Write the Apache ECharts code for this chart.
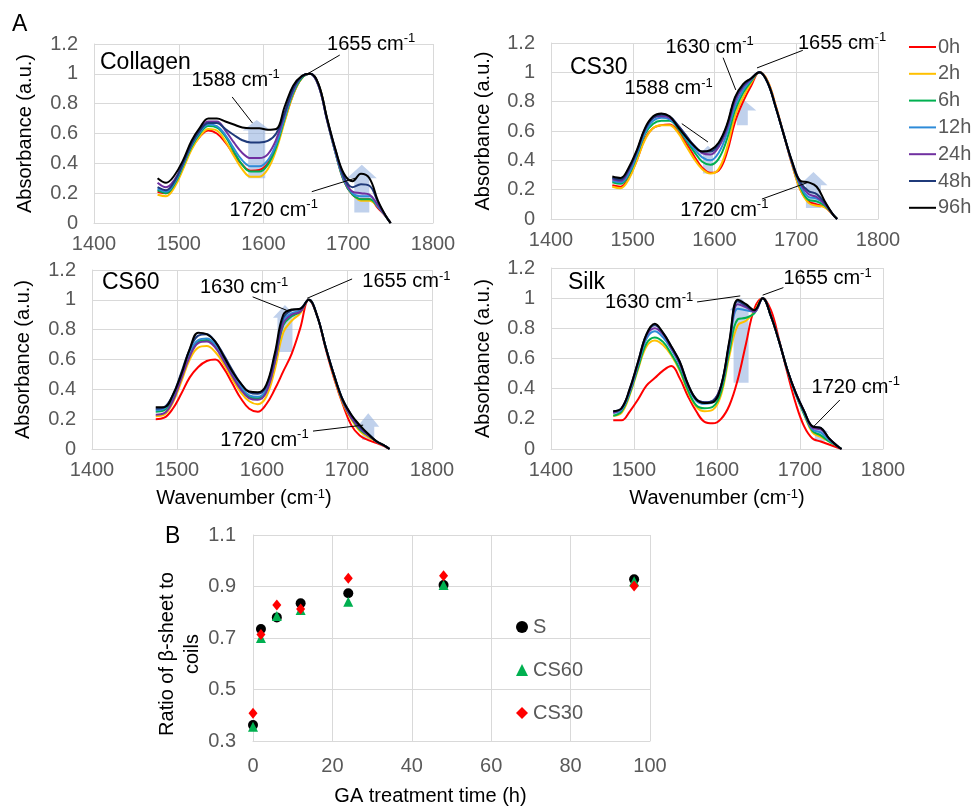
<!DOCTYPE html>
<html>
<head>
<meta charset="utf-8">
<script src="https://cdn.jsdelivr.net/npm/echarts@6/dist/echarts.min.js"></script>
<style>
  html, body { margin: 0; background: #fff; }
  #chart { width: 975px; height: 807px; }
</style>
</head>
<body>
<div id="chart"></div>
<script>
'use strict'

/*----- data: FTIR spectra (panel A) -----*/
var wavenumbers = [1475, 1485, 1495, 1505, 1515, 1525, 1535, 1545, 1555, 1565, 1575, 1585, 1595, 1605, 1615,
  1625, 1635, 1645, 1655, 1665, 1675, 1685, 1695, 1705, 1715, 1725, 1735, 1745, 1750];
var times = ['0h', '2h', '6h', '12h', '24h', '48h', '96h'];

// one row per GA time (0h .. 96h), values match wavenumbers
var collagen = [
  [0.21, 0.20, 0.25, 0.37, 0.50, 0.58, 0.62, 0.60, 0.54, 0.46, 0.39, 0.35, 0.355, 0.40, 0.51, 0.69, 0.86, 0.97, 1.00, 0.92, 0.69, 0.47, 0.28, 0.19, 0.16, 0.16, 0.10, 0.04, 0],
  [0.19, 0.18, 0.24, 0.36, 0.49, 0.58, 0.63, 0.62, 0.55, 0.45, 0.36, 0.31, 0.31, 0.36, 0.49, 0.68, 0.86, 0.97, 1.00, 0.93, 0.70, 0.48, 0.29, 0.20, 0.15, 0.15, 0.11, 0.04, 0],
  [0.22, 0.20, 0.26, 0.38, 0.51, 0.60, 0.65, 0.64, 0.58, 0.48, 0.39, 0.345, 0.345, 0.39, 0.51, 0.70, 0.87, 0.97, 1.00, 0.92, 0.69, 0.47, 0.28, 0.19, 0.16, 0.16, 0.11, 0.04, 0],
  [0.23, 0.21, 0.27, 0.39, 0.52, 0.61, 0.66, 0.65, 0.59, 0.50, 0.42, 0.38, 0.38, 0.42, 0.53, 0.71, 0.88, 0.98, 1.00, 0.92, 0.69, 0.47, 0.29, 0.20, 0.18, 0.18, 0.11, 0.04, 0],
  [0.27, 0.24, 0.29, 0.40, 0.53, 0.63, 0.68, 0.68, 0.62, 0.54, 0.47, 0.435, 0.435, 0.46, 0.56, 0.73, 0.89, 0.98, 1.00, 0.92, 0.69, 0.48, 0.30, 0.21, 0.20, 0.19, 0.12, 0.04, 0],
  [0.24, 0.22, 0.28, 0.40, 0.53, 0.62, 0.67, 0.67, 0.63, 0.59, 0.555, 0.54, 0.54, 0.55, 0.60, 0.74, 0.90, 0.98, 1.00, 0.93, 0.70, 0.49, 0.31, 0.24, 0.26, 0.25, 0.14, 0.04, 0],
  [0.30, 0.27, 0.32, 0.42, 0.55, 0.64, 0.70, 0.70, 0.68, 0.66, 0.64, 0.635, 0.635, 0.625, 0.63, 0.78, 0.92, 0.985, 1.00, 0.93, 0.70, 0.49, 0.33, 0.28, 0.33, 0.30, 0.15, 0.04, 0]
];
var cs30 = [
  [0.23, 0.22, 0.28, 0.40, 0.55, 0.62, 0.64, 0.645, 0.60, 0.52, 0.43, 0.35, 0.315, 0.33, 0.45, 0.66, 0.80, 0.91, 1.00, 0.94, 0.77, 0.57, 0.37, 0.20, 0.12, 0.10, 0.08, 0.03, 0],
  [0.22, 0.21, 0.27, 0.40, 0.54, 0.62, 0.64, 0.64, 0.59, 0.50, 0.41, 0.34, 0.31, 0.34, 0.48, 0.70, 0.83, 0.93, 1.00, 0.94, 0.77, 0.57, 0.37, 0.20, 0.11, 0.09, 0.08, 0.03, 0],
  [0.25, 0.24, 0.30, 0.43, 0.58, 0.65, 0.67, 0.67, 0.62, 0.54, 0.46, 0.39, 0.37, 0.41, 0.54, 0.74, 0.86, 0.94, 1.00, 0.93, 0.76, 0.57, 0.38, 0.22, 0.13, 0.12, 0.09, 0.03, 0],
  [0.26, 0.25, 0.31, 0.44, 0.59, 0.67, 0.69, 0.68, 0.63, 0.55, 0.48, 0.42, 0.40, 0.45, 0.58, 0.77, 0.88, 0.95, 1.00, 0.93, 0.76, 0.57, 0.38, 0.23, 0.15, 0.14, 0.10, 0.03, 0],
  [0.27, 0.26, 0.33, 0.46, 0.61, 0.69, 0.70, 0.69, 0.64, 0.57, 0.50, 0.45, 0.44, 0.49, 0.61, 0.80, 0.90, 0.955, 1.00, 0.93, 0.76, 0.57, 0.38, 0.24, 0.17, 0.15, 0.10, 0.03, 0],
  [0.28, 0.27, 0.34, 0.46, 0.61, 0.69, 0.71, 0.70, 0.64, 0.57, 0.50, 0.46, 0.46, 0.51, 0.63, 0.82, 0.91, 0.96, 1.00, 0.93, 0.76, 0.57, 0.39, 0.25, 0.19, 0.17, 0.11, 0.03, 0],
  [0.29, 0.28, 0.35, 0.47, 0.62, 0.70, 0.72, 0.70, 0.63, 0.56, 0.50, 0.46, 0.47, 0.52, 0.64, 0.83, 0.92, 0.96, 1.00, 0.93, 0.76, 0.57, 0.39, 0.26, 0.25, 0.22, 0.12, 0.03, 0]
];
var cs60 = [
  [0.20, 0.21, 0.27, 0.37, 0.48, 0.55, 0.59, 0.60, 0.54, 0.44, 0.34, 0.27, 0.25, 0.30, 0.40, 0.52, 0.64, 0.81, 1.00, 0.89, 0.67, 0.47, 0.30, 0.16, 0.09, 0.06, 0.04, 0.015, 0],
  [0.22, 0.23, 0.31, 0.45, 0.60, 0.68, 0.69, 0.65, 0.57, 0.47, 0.38, 0.32, 0.30, 0.35, 0.53, 0.78, 0.86, 0.91, 1.00, 0.89, 0.68, 0.48, 0.31, 0.20, 0.12, 0.08, 0.05, 0.02, 0],
  [0.25, 0.26, 0.34, 0.49, 0.64, 0.72, 0.73, 0.69, 0.60, 0.50, 0.41, 0.35, 0.34, 0.39, 0.58, 0.83, 0.89, 0.92, 1.00, 0.89, 0.68, 0.49, 0.32, 0.21, 0.13, 0.09, 0.05, 0.02, 0],
  [0.26, 0.27, 0.35, 0.50, 0.65, 0.73, 0.74, 0.70, 0.61, 0.51, 0.42, 0.36, 0.35, 0.40, 0.60, 0.86, 0.91, 0.93, 1.00, 0.89, 0.68, 0.49, 0.33, 0.22, 0.14, 0.10, 0.05, 0.02, 0],
  [0.23, 0.24, 0.32, 0.47, 0.62, 0.71, 0.72, 0.68, 0.59, 0.49, 0.40, 0.34, 0.33, 0.38, 0.58, 0.84, 0.90, 0.92, 1.00, 0.89, 0.68, 0.49, 0.32, 0.21, 0.14, 0.09, 0.05, 0.02, 0],
  [0.27, 0.28, 0.36, 0.51, 0.67, 0.76, 0.77, 0.72, 0.63, 0.53, 0.44, 0.38, 0.37, 0.42, 0.62, 0.88, 0.93, 0.94, 1.00, 0.89, 0.68, 0.49, 0.33, 0.23, 0.15, 0.10, 0.05, 0.02, 0],
  [0.28, 0.28, 0.36, 0.50, 0.67, 0.78, 0.77, 0.72, 0.62, 0.52, 0.44, 0.385, 0.38, 0.43, 0.64, 0.90, 0.935, 0.94, 1.00, 0.89, 0.68, 0.49, 0.33, 0.23, 0.16, 0.10, 0.05, 0.02, 0]
];
var silk = [
  [0.19, 0.19, 0.25, 0.33, 0.42, 0.47, 0.52, 0.55, 0.47, 0.35, 0.25, 0.18, 0.17, 0.20, 0.29, 0.46, 0.70, 0.93, 1.00, 0.92, 0.72, 0.50, 0.30, 0.15, 0.07, 0.05, 0.03, 0.01, 0],
  [0.22, 0.24, 0.36, 0.53, 0.68, 0.72, 0.69, 0.62, 0.52, 0.38, 0.28, 0.25, 0.26, 0.36, 0.62, 0.82, 0.85, 0.91, 1.00, 0.88, 0.71, 0.52, 0.36, 0.23, 0.11, 0.08, 0.05, 0.02, 0],
  [0.22, 0.25, 0.37, 0.54, 0.70, 0.74, 0.71, 0.63, 0.53, 0.39, 0.29, 0.27, 0.28, 0.38, 0.65, 0.86, 0.87, 0.90, 1.00, 0.88, 0.71, 0.52, 0.36, 0.23, 0.12, 0.09, 0.05, 0.02, 0],
  [0.24, 0.26, 0.38, 0.56, 0.73, 0.78, 0.74, 0.66, 0.56, 0.42, 0.32, 0.30, 0.31, 0.41, 0.69, 0.93, 0.92, 0.91, 1.00, 0.88, 0.71, 0.52, 0.36, 0.24, 0.13, 0.11, 0.06, 0.02, 0],
  [0.24, 0.27, 0.39, 0.57, 0.75, 0.80, 0.76, 0.67, 0.57, 0.42, 0.33, 0.31, 0.32, 0.42, 0.70, 0.96, 0.94, 0.91, 1.00, 0.88, 0.71, 0.52, 0.37, 0.25, 0.14, 0.13, 0.07, 0.02, 0],
  [0.25, 0.27, 0.40, 0.58, 0.76, 0.82, 0.77, 0.68, 0.58, 0.43, 0.33, 0.31, 0.32, 0.42, 0.71, 0.98, 0.95, 0.92, 1.00, 0.88, 0.71, 0.52, 0.37, 0.25, 0.15, 0.14, 0.07, 0.02, 0],
  [0.25, 0.27, 0.40, 0.58, 0.76, 0.83, 0.77, 0.68, 0.58, 0.43, 0.33, 0.305, 0.31, 0.42, 0.72, 0.99, 0.96, 0.92, 1.00, 0.88, 0.71, 0.52, 0.37, 0.25, 0.15, 0.14, 0.07, 0.02, 0]
];
var panelNames = ['Collagen', 'CS30', 'CS60', 'Silk'];

/*----- data: ratio of beta-sheet to coils (panel B) -----*/
var gaHours = [0, 2, 6, 12, 24, 48, 96];
var ratioS = [0.362, 0.735, 0.780, 0.835, 0.874, 0.906, 0.928];
var ratioCS60 = [0.355, 0.700, 0.785, 0.809, 0.841, 0.906, 0.920];
var ratioCS30 = [0.408, 0.714, 0.828, 0.813, 0.932, 0.942, 0.902];

/*----- annotations (data units) -----*/
// [x on curve, y on curve, x line end, y line end, x text, y text, label]
var notes = [
  [[1652, 1.0, 1690, 1.126, 1675, 1.2, '1655'],
   [1587, 0.67, 1563, 0.845, 1515, 0.958, '1588'],
   [1708, 0.30, 1657, 0.21, 1560, 0.087, '1720']],
  [[1652, 1.03, 1708, 1.15, 1702, 1.2, '1655'],
   [1626, 0.88, 1610.5, 1.10, 1540, 1.17, '1630'],
   [1592, 0.525, 1560, 0.65, 1490, 0.89, '1588'],
   [1714.5, 0.25, 1658, 0.136, 1558, 0.06, '1720']],
  [[1653, 1.01, 1706, 1.14, 1718, 1.12, '1655'],
   [1629, 0.93, 1589, 1.02, 1527, 1.08, '1630'],
   [1719, 0.16, 1660, 0.12, 1551, 0.06, '1720']],
  [[1655, 1.02, 1680, 1.07, 1680, 1.13, '1655'],
   [1628, 1.015, 1576, 0.975, 1465, 0.97, '1630'],
   [1716, 0.146, 1748, 0.325, 1714, 0.41, '1720']]
];
// [x, bottom, head base, tip, shaft px, head px]
var arrows = [
  [[1592, 0.30, 0.62, 0.69, 17, 28], [1716, 0.07, 0.30, 0.39, 15, 30]],
  [[1592, 0.31, 0.44, 0.50, 10, 18], [1634, 0.64, 0.74, 0.82, 11, 28], [1721, 0.075, 0.23, 0.32, 15, 28]],
  [[1627, 0.65, 0.88, 0.965, 15, 24], [1725, 0.06, 0.15, 0.24, 12, 22]],
  [[1629, 0.44, 0.92, 1.0, 15, 23], [1724, 0.05, 0.11, 0.15, 10, 18]]
];

var FONT = '"Liberation Sans", Arial, sans-serif';
var timeColors = ['#ff0000', '#ffc000', '#00b050', '#2e8bd8', '#7030a0', '#1f3a7a', '#000000'];
var gridColor = '#d9d9d9';
var supRich = {
  a: { fontSize: 20, fontFamily: FONT, color: '#000', lineHeight: 24 },
  s: { fontSize: 13, fontFamily: FONT, color: '#000', lineHeight: 13, verticalAlign: 'top' }
};

var chart = echarts.init(document.getElementById('chart'));

var grids = [
  { left: 94, top: 44, width: 339, height: 179 },
  { left: 551, top: 43, width: 327, height: 176 },
  { left: 92, top: 270, width: 340, height: 179 },
  { left: 551, top: 268, width: 332, height: 181 },
  { left: 253, top: 535, width: 397, height: 206 }
];

var axisLabel = { fontSize: 20, color: '#595959', fontFamily: FONT };
var xAxes = [], yAxes = [], series = [];

[collagen, cs30, cs60, silk].forEach(function (spec, p) {
  var bottomRow = p >= 2;
  xAxes.push({
    type: 'value', gridIndex: p, min: 1400, max: 1800, interval: 100,
    axisLine: { lineStyle: { color: gridColor } }, axisTick: { show: false },
    splitLine: { lineStyle: { color: gridColor } },
    axisLabel: Object.assign({ margin: 11, formatter: function (v) { return String(v); } }, axisLabel),
    name: bottomRow ? 'Wavenumber (cm{s|-1})' : '',
    nameLocation: 'middle', nameGap: 39,
    nameTextStyle: { fontSize: 20, color: '#000', fontFamily: FONT, rich: supRich,
      padding: p === 2 ? [0, 36, 0, 0] : 0 }
  });
  yAxes.push({
    type: 'value', gridIndex: p, min: 0, max: 1.2, interval: 0.2,
    axisLine: { show: true, lineStyle: { color: gridColor } }, axisTick: { show: false },
    splitLine: { lineStyle: { color: gridColor } },
    axisLabel: Object.assign({ margin: 16 }, axisLabel),
    name: 'Absorbance (a.u.)', nameLocation: 'middle', nameGap: p % 2 ? 58 : 59,
    nameTextStyle: { fontSize: 20, color: '#000', fontFamily: FONT }
  });

  spec.forEach(function (vals, i) {
    series.push({
      name: times[i], type: 'line', xAxisIndex: p, yAxisIndex: p,
      data: wavenumbers.map(function (w, k) { return [w, vals[k]]; }),
      symbol: 'none', smooth: 0.4, z: 3,
      lineStyle: { width: 2, color: timeColors[i] },
      itemStyle: { color: timeColors[i] }
    });
  });

  // light blue arrows
  series.push({
    type: 'custom', xAxisIndex: p, yAxisIndex: p, clip: false, silent: true, z: 2,
    data: arrows[p],
    renderItem: function (params, api) {
      var x = api.value(0), sw = api.value(4), hw = api.value(5);
      var b = api.coord([x, api.value(1)]);
      var m = api.coord([x, api.value(2)]);
      var t = api.coord([x, api.value(3)]);
      return {
        type: 'polygon',
        shape: { points: [[b[0] - sw / 2, b[1]], [m[0] - sw / 2, m[1]], [m[0] - hw / 2, m[1]], t,
          [m[0] + hw / 2, m[1]], [m[0] + sw / 2, m[1]], [b[0] + sw / 2, b[1]]] },
        style: { fill: 'rgba(140,172,220,0.55)' }
      };
    }
  });

  // peak labels with leader lines
  series.push({
    type: 'custom', xAxisIndex: p, yAxisIndex: p, clip: false, silent: true, z: 5,
    data: notes[p].map(function (n) { return n.slice(0, 6); }),
    renderItem: function (params, api) {
      var a = api.coord([api.value(0), api.value(1)]);
      var e = api.coord([api.value(2), api.value(3)]);
      var t = api.coord([api.value(4), api.value(5)]);
      var label = notes[p][params.dataIndex][6];
      return {
        type: 'group',
        children: [
          { type: 'line', shape: { x1: a[0], y1: a[1], x2: e[0], y2: e[1] },
            style: { stroke: '#000', lineWidth: 1 } },
          { type: 'text', x: t[0], y: t[1],
            style: { text: '{a|' + label + ' cm}{s|-1}', rich: supRich,
              align: 'left', verticalAlign: 'middle' } }
        ]
      };
    }
  });
});

// panel B axes
xAxes.push({
  type: 'value', gridIndex: 4, min: 0, max: 100, interval: 20,
  axisLine: { lineStyle: { color: gridColor } }, axisTick: { show: false },
  splitLine: { lineStyle: { color: gridColor } },
  axisLabel: Object.assign({ margin: 15 }, axisLabel),
  name: 'GA treatment time (h)', nameLocation: 'middle', nameGap: 45,
  nameTextStyle: { fontSize: 20, color: '#000', fontFamily: FONT, padding: [0, 42, 0, 0] }
});
yAxes.push({
  type: 'value', gridIndex: 4, min: 0.3, max: 1.1, interval: 0.2,
  axisLine: { show: true, lineStyle: { color: gridColor } }, axisTick: { show: false },
  splitLine: { lineStyle: { color: gridColor } },
  axisLabel: Object.assign({ margin: 17, formatter: function (v) { return v.toFixed(1); } }, axisLabel),
  name: 'Ratio of \u03b2-sheet to\ncoils', nameLocation: 'middle', nameGap: 48, nameMoveOverlap: false,
  nameTextStyle: { fontSize: 20, color: '#000', fontFamily: FONT, lineHeight: 25, padding: [0, 32, 0, 0] }
});

function pairs(ys) { return gaHours.map(function (h, k) { return [h, ys[k]]; }); }
series.push(
  { name: 'S', type: 'scatter', xAxisIndex: 4, yAxisIndex: 4, data: pairs(ratioS),
    symbol: 'circle', symbolSize: 10, itemStyle: { color: '#000', opacity: 1 }, z: 3 },
  { name: 'CS60', type: 'scatter', xAxisIndex: 4, yAxisIndex: 4, data: pairs(ratioCS60),
    symbol: 'triangle', symbolSize: 10, itemStyle: { color: '#00b050', opacity: 1 }, z: 4 },
  { name: 'CS30', type: 'scatter', xAxisIndex: 4, yAxisIndex: 4, data: pairs(ratioCS30),
    symbol: 'diamond', symbolSize: [9, 11], itemStyle: { color: '#ff0000', opacity: 1 }, z: 5 }
);

var titleStyle = { fontSize: 23, fontWeight: 'normal', color: '#000', fontFamily: FONT };
var titles = [
  { text: 'A', left: 12, top: 13 },
  { text: 'B', left: 165, top: 525 },
  { text: panelNames[0], left: 100, top: 51 },
  { text: panelNames[1], left: 570, top: 56 },
  { text: panelNames[2], left: 102, top: 271 },
  { text: panelNames[3], left: 568, top: 271 }
].map(function (t) { return Object.assign({ padding: 0, textStyle: titleStyle }, t); });

var option = {
  animation: false,
  backgroundColor: '#fff',
  title: titles,
  grid: grids,
  xAxis: xAxes,
  yAxis: yAxes,
  legend: [
    { data: times, orient: 'vertical', left: 904, top: 32, icon: 'rect', itemWidth: 27, itemHeight: 2,
      itemGap: 6.8, selectedMode: false,
      textStyle: { fontSize: 20, color: '#595959', fontFamily: FONT, padding: [0, 0, 0, -3] } },
    { data: ['S', 'CS60', 'CS30'], orient: 'vertical', left: 511, top: 612, itemWidth: 12, itemHeight: 12,
      itemGap: 23, selectedMode: false, textStyle: { fontSize: 20, color: '#595959', fontFamily: FONT } }
  ],
  series: series
};
chart.setOption(option);
</script>
</body>
</html>
